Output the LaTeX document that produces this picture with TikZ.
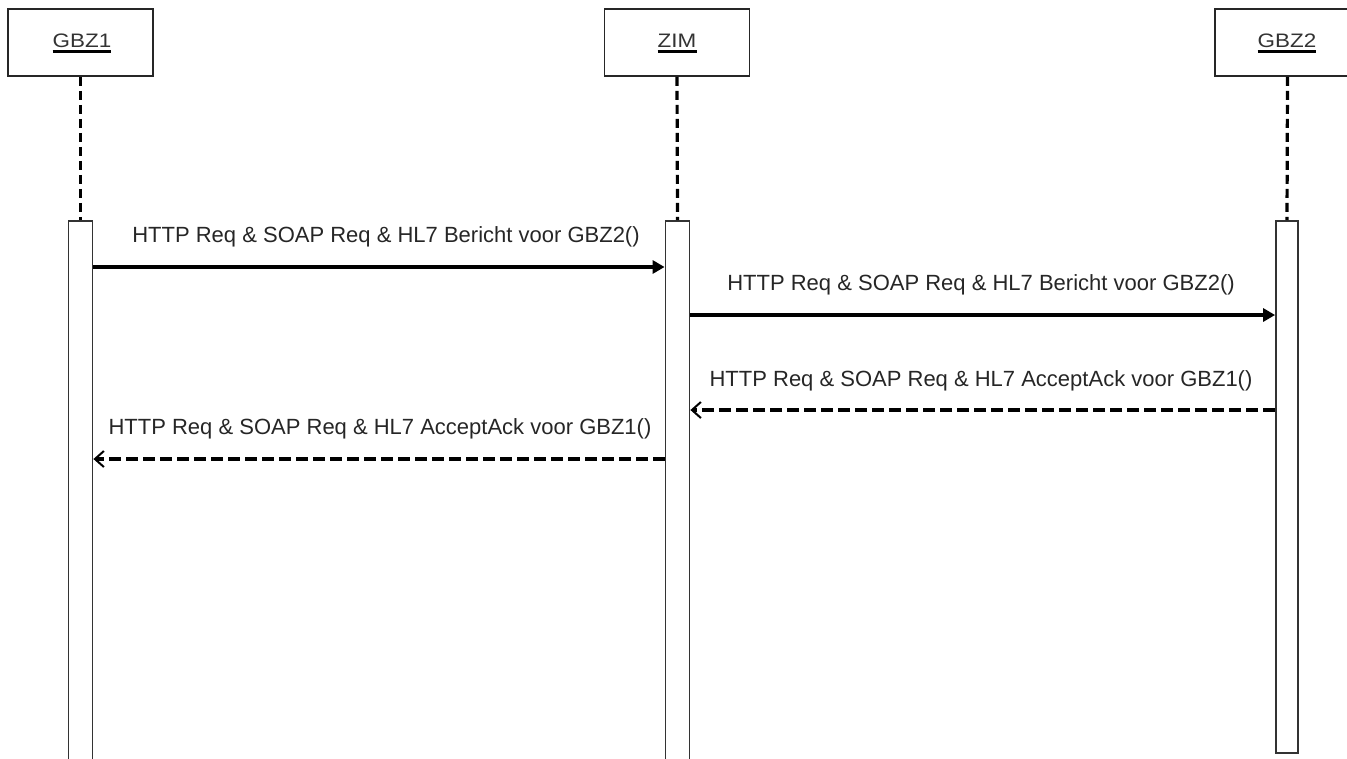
\documentclass[tikz,border=0pt]{standalone}
\usepackage{fontspec}
\setmainfont{Liberation Sans}
\usetikzlibrary{arrows.meta}
\begin{document}
\begin{tikzpicture}[x=1pt,y=-1pt,
  headbox/.style={draw=black!85,line width=1.6pt,minimum width=145pt,minimum height=67pt,inner sep=0pt,fill=white},
  headtext/.style={inner sep=0pt,font=\fontsize{19.5}{22}\selectfont,text=black!80},
  actbar/.style={draw=black!80,line width=1.8pt,fill=white,minimum width=24pt,inner sep=0pt,anchor=north},
  lifeline/.style={line width=3.2pt,dash pattern=on 9pt off 5pt},
  msgtext/.style={inner sep=0pt,font=\fontsize{22}{25}\selectfont,text=black!85},
  syncmsg/.style={line width=3.2pt,-{Triangle[length=12pt,width=13pt]}},
  retmsg/.style={line width=3.2pt,dash pattern=on 12pt off 5pt,-{Straight Barb[length=9pt,width=16pt,line width=2pt]}}
]
\useasboundingbox (0,0) rectangle (1347,758);
\clip (0,0) rectangle (1347,758);
% header boxes
\node[headbox] (h1) at (80.5,42.5) {};
\node[headbox] (h2) at (677,42.5) {};
\node[headbox] (h3) at (1287.5,42.5) {};
\node[headtext] (t1) at (82,41) {\scalebox{1.15}[1]{GBZ1}};
\node[headtext] (t2) at (677,41) {\scalebox{1.15}[1]{ZIM}};
\node[headtext] (t3) at (1287,41) {\scalebox{1.15}[1]{GBZ2}};
\foreach \t in {t1,t2,t3}
  \draw[line width=3pt] ([yshift=-3.5pt]\t.base west) -- ([yshift=-3.5pt]\t.base east);
% activation bars
\node[actbar,minimum height=560pt] (a1) at (80.5,220) {};
\node[actbar,minimum height=560pt] (a2) at (677.5,220) {};
\node[actbar,minimum height=532pt,minimum width=22pt] (a3) at (1287,220) {};
% lifelines
\draw[lifeline] (h1.south) -- (a1.north);
\draw[lifeline] (h2.south) -- (a2.north);
\draw[lifeline] (h3.south) -- (a3.north);
% message rows
\coordinate (y1) at (0,267);
\coordinate (y2) at (0,315);
\coordinate (y3) at (0,410);
\coordinate (y4) at (0,459);
\draw[syncmsg] (a1.east |- y1) -- (a2.west |- y1);
\draw[syncmsg] (a2.east |- y2) -- (a3.west |- y2);
\draw[retmsg] (a3.west |- y3) -- (a2.east |- y3);
\draw[retmsg] (a2.west |- y4) -- (a1.east |- y4);
\node[msgtext] (l1) at (386,237) {HTTP Req \& SOAP Req \& HL7 Bericht voor GBZ2()};
\node[msgtext] (l2) at (981,285) {HTTP Req \& SOAP Req \& HL7 Bericht voor GBZ2()};
\node[msgtext] (l3) at (981,381) {HTTP Req \& SOAP Req \& HL7 AcceptAck voor GBZ1()};
\node[msgtext] (l4) at (380,429) {HTTP Req \& SOAP Req \& HL7 AcceptAck voor GBZ1()};
\end{tikzpicture}
\end{document}
